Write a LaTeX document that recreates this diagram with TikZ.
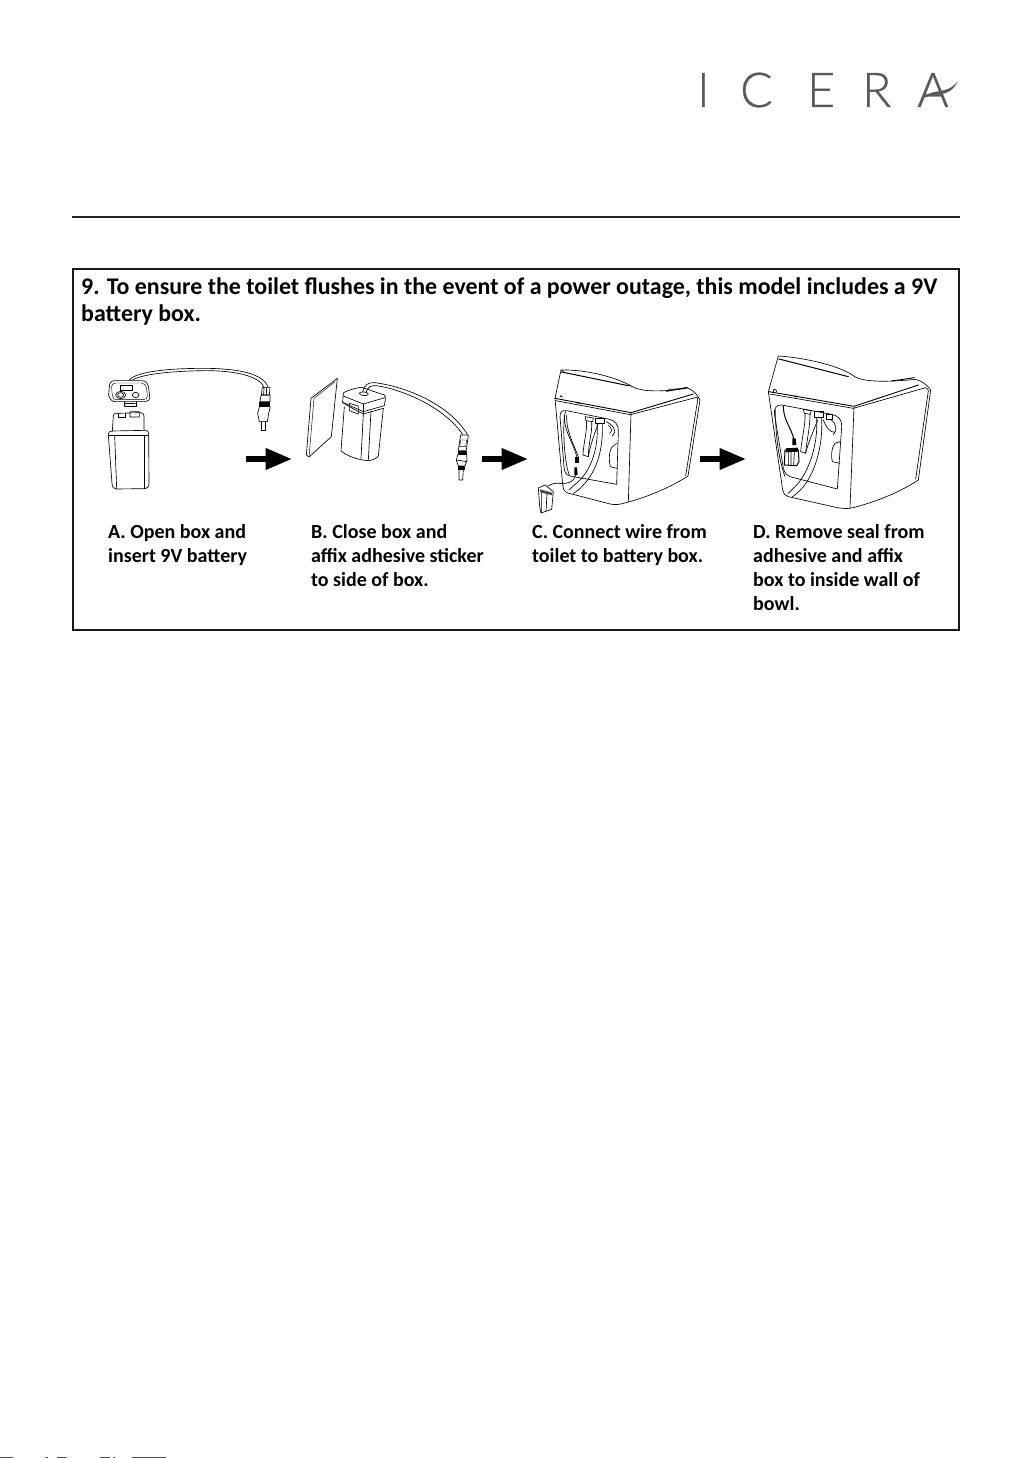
\documentclass[tikz,border=0pt]{standalone}
\usepackage{fontspec}
\usetikzlibrary{arrows.meta}
\setmainfont{Carlito}
\newfontfamily\logofont{Lato}[UprightFont=* Light,UprightFeatures={FakeBold=0.7}]
\definecolor{logogray}{HTML}{58595B}
\tikzset{
  x=1pt,y=-1pt,
  titletext/.style={font=\bfseries\fontsize{23.9}{27}\selectfont,anchor=base west,inner sep=0},
  captext/.style={font=\bfseries\fontsize{20}{24}\selectfont,anchor=north west,inner sep=0,align=left},
  logo/.style={font=\logofont\fontsize{48}{48}\selectfont,text=logogray,anchor=base west,inner sep=0},
  ink/.style={line width=.65pt,line join=round,line cap=round},
  thin ink/.style={line width=.45pt,line join=round,line cap=round},
  steparrow/.style={line width=6.7pt,-{Triangle[length=27pt,width=20pt]}},
  zoomA/.style={shift={(80,345)},scale=1/3},
  zoomB/.style={shift={(295,345)},scale=1/3},
  zoomC/.style={shift={(525,350)},scale=1/3},
  zoomD/.style={shift={(755,345)},scale=1/3},
}
\begin{document}
\begin{tikzpicture}
\useasboundingbox (0,0) rectangle (1033,1458);
\fill[white] (0,0) rectangle (1033,1458);
% logo
\node[logo] (lI) at (697,107) {I};
\node[logo] (lC) at (740,107) {C};
\node[logo] (lE) at (807,107) {E};
\node[logo] (lR) at (862,107) {R};
\node[logo] (lA) at (917,107) {A};
\fill[logogray] (921,100) .. controls (932,86) and (945,97) .. (958,81) .. controls (948,101) and (934,90) .. (921,100) -- cycle;
% rule and frame
\draw[line width=1.5pt,black!85] (72,217) -- (960,217);
\draw[line width=2pt,black!90] (73,268.5) rectangle (959,630);
\node[titletext] (t1) at (81,294) {9. To ensure the toilet flushes in the event of a power outage, this model includes a 9V};
\node[titletext] (t2) at (81,321) {battery box.};
\node[captext] (ca) at (108,524) {A. Open box and\\insert 9V battery};
\node[captext] (cb) at (311,524) {B. Close box and\\affix adhesive sticker\\to side of box.};
\node[captext] (cc) at (532,524) {C. Connect wire from\\toilet to battery box.};
\node[captext] (cd) at (753,524) {D. Remove seal from\\adhesive and affix\\box to inside wall of\\bowl.};
% step arrows
\coordinate (a1s) at (246,459); \coordinate (a1e) at (292.5,459);
\coordinate (a2s) at (482,459); \coordinate (a2e) at (528.5,459);
\coordinate (a3s) at (700,459); \coordinate (a3e) at (746.5,459);
\draw[steparrow] (a1s) -- (a1e);
\draw[steparrow] (a2s) -- (a2e);
\draw[steparrow] (a3s) -- (a3e);
% PANEL A
\begin{scope}[zoomA,ink]
 \draw (88,125) .. controls (88,112) and (95,107) .. (105,107) -- (185,107) .. controls (198,107) and (204,115) .. (206,128) -- (209,155) .. controls (209,165) and (204,170) .. (195,170) -- (105,170) .. controls (95,170) and (88,160) .. (86,150) -- cycle;
 \draw[thin ink] (95,128) .. controls (95,118) and (100,114) .. (108,114) -- (185,114) .. controls (194,114) and (198,122) .. (200,132) -- (202,152) .. controls (202,160) and (198,164) .. (190,164) -- (108,164) .. controls (100,164) and (96,155) .. (95,128) -- cycle;
 \draw (122,120) rectangle (158,136);
 \draw (122,150) ellipse (15 and 11);
 \draw (122,150) ellipse (9 and 7);
 \draw (167,150) ellipse (10 and 8);
 \draw (132,170) -- (132,184) -- (168,184) -- (168,170);
 \draw (134,176) -- (166,176);
 % wire
 \draw (147,106) .. controls (170,76) and (290,70) .. (370,70) .. controls (470,70) and (552,85) .. (564,127);
 \draw (156,106) .. controls (190,84) and (300,78) .. (370,77) .. controls (470,76) and (540,95) .. (552,127);
 % plug
 \draw (547,127) -- (570,127) -- (568,150) -- (544,150) -- cycle;
 \draw (552,127) -- (551,150) (560,127) -- (559,150);
 \draw (543,150) -- (570,150) -- (570,170) -- (540,170) -- cycle;
 \fill (538,170) rectangle (571,186);
 \draw (538,186) -- (533,205) -- (538,230) -- (562,230) -- (566,205) -- (571,186);
 \draw (543,230) -- (543,255) -- (555,255) -- (555,230);
 % battery
 \draw (97,258) -- (100,213) .. controls (100,207) and (103,205) .. (108,205) -- (182,203) .. controls (188,203) and (192,207) .. (192,213) -- (192,255);
 \draw (115,205) -- (115,216) -- (137,216) -- (137,205);
 \draw (150,203) -- (150,216) -- (178,216) -- (178,200) -- (152,200) -- cycle;
 \draw (85,270) .. controls (85,262) and (88,258) .. (95,258) -- (197,256) .. controls (203,256) and (206,260) .. (206,268) -- (207,415) .. controls (207,425) and (202,431) .. (195,431) -- (108,432) .. controls (100,432) and (97,425) .. (96,415) -- cycle;
 \draw (87,272) -- (205,272);
 \draw (104,272) -- (110,431);
 \draw (192,272) -- (192,431);
\end{scope}
% PANEL B
\begin{scope}[zoomB,ink]
 \draw (48,160) -- (127,100) -- (109,275) -- (42,336) -- (34,330) -- cycle;
 \draw[thin ink] (57,160) -- (120,110) (57,160) -- (42,336);
 % box
 \draw (145,145) .. controls (147,138) and (190,127) .. (200,127) -- (268,150) .. controls (272,152) and (272,160) .. (270,170);
 \draw (145,145) -- (143,172) -- (205,200) -- (268,182) -- (270,170);
 \draw (145,153) -- (205,177) -- (270,158);
 \draw (205,177) -- (205,207);
 \draw (143,172) .. controls (140,170) and (155,182) .. (205,207) -- (265,190);
 \draw (163,175) -- (190,183) -- (190,207) -- (163,197) -- cycle;
 \draw (148,185) -- (138,318) .. controls (160,335) and (190,345) .. (220,347) .. controls (235,345) and (245,340) .. (250,333) -- (265,190);
 \draw (205,207) -- (198,340) (228,198) -- (220,345);
 \draw (193,145) .. controls (193,139) and (218,139) .. (220,147) .. controls (218,155) and (195,153) .. (193,145) -- cycle;
 % wire
 \draw (203,141) .. controls (208,118) and (220,112) .. (240,113) .. controls (330,125) and (460,175) .. (517,268);
 \draw (213,143) .. controls (218,125) and (228,121) .. (245,122) .. controls (330,135) and (450,190) .. (503,268);
 % plug
 \draw (497,270) -- (520,270) -- (514,316) -- (490,316) -- cycle;
 \draw[thin ink] (497,285) -- (515,285) -- (512,305) -- (494,305) -- cycle;
 \fill (488,318) rectangle (515,330);
 \draw (488,330) -- (484,345) -- (490,363) -- (510,363) -- (516,345) -- (515,330);
 \draw (484,345) -- (516,350);
 \fill (490,363) rectangle (510,374);
 \draw (492,374) -- (492,405) -- (503,405) -- (505,374);
\end{scope}
% PANEL C
\begin{scope}[zoomC,ink]
 % shell
 \draw (108,60) .. controls (190,58) and (280,85) .. (318,108) .. controls (350,128) and (420,125) .. (488,114) .. controls (505,120) and (518,135) .. (525,150) -- (489,378) .. controls (440,410) and (370,440) .. (310,456) .. controls (280,465) and (270,465) .. (255,462) -- (125,428) .. controls (118,425) and (115,418) .. (113,405) -- (90,145) -- cycle;
 \draw[line width=1pt] (110,66) -- (305,106);
 \draw (108,60) -- (118,68) (305,106) -- (318,108);
 \draw[line width=.9pt] (90,145) -- (318,188) -- (505,132);
 \draw (92,152) -- (316,194) -- (515,142) .. controls (518,144) and (520,146) .. (518,150);
 \draw (518,150) -- (482,377);
 \draw (318,190) -- (310,456);
 \draw[line width=.9pt] (425,124) -- (487,112);
 \draw (430,118) -- (480,116);
 \draw (105,140) .. controls (103,135) and (112,135) .. (112,142);
 \draw (158,160) .. controls (158,156) and (165,156) .. (165,162);
 % opening
 \draw (105,200) .. controls (105,185) and (112,180) .. (125,182) -- (250,207) .. controls (270,210) and (282,225) .. (280,245) -- (275,403) -- (135,378) .. controls (122,375) and (118,365) .. (117,350) -- cycle;
 \draw (122,185) .. controls (112,200) and (115,330) .. (133,376);
 % hoses
 \draw (180,200) -- (205,204) -- (203,215) -- (183,212) -- cycle;
 \draw (184,212) .. controls (188,240) and (175,280) .. (174,315) (200,215) .. controls (202,250) and (190,280) .. (190,320);
 \draw (174,315) -- (190,320);
 \draw (210,205) rectangle (238,220);
 \draw (216,220) .. controls (222,300) and (195,370) .. (148,405) -- (132,420);
 \draw (232,222) .. controls (235,320) and (205,380) .. (160,420) -- (145,430);
 \draw (220,220) .. controls (205,260) and (195,290) .. (190,320);
 \draw (245,215) .. controls (270,230) and (275,245) .. (262,258) (250,225) .. controls (262,235) and (262,245) .. (254,250);
 \draw (262,290) .. controls (250,305) and (252,335) .. (256,350) -- (275,355) (275,280) -- (262,290);
 % wire
 \draw (118,195) .. controls (115,240) and (150,290) .. (155,320);
 \draw (125,195) .. controls (122,240) and (145,280) .. (160,320);
 \fill (150,320) rectangle (162,340);
 \fill (148,352) -- (156,352) -- (158,375) -- (148,375) -- cycle;
 \draw (152,375) .. controls (150,395) and (120,405) .. (105,400) .. controls (90,398) and (80,402) .. (68,408);
 % mini box
 \draw (40,414) -- (60,405) -- (85,425) -- (80,478) -- (48,489) -- (44,470) -- cycle;
 \fill[black!70] (45,418) -- (82,428) -- (82,436) -- (46,427) -- cycle;
 \draw (50,427) -- (50,488) (66,432) -- (63,484);
\end{scope}
% PANEL D
\begin{scope}[zoomD,ink]
 \draw (70,33) .. controls (150,38) and (250,62) .. (292,90) .. controls (320,115) and (410,110) .. (482,103) .. controls (500,108) and (518,120) .. (527,135) -- (490,405) .. controls (430,445) and (350,475) .. (285,490) .. controls (260,492) and (240,487) .. (225,483) -- (100,455) .. controls (90,453) and (85,445) .. (83,435) -- (40,140) -- cycle;
 \draw[line width=1pt] (72,42) -- (280,95);
 \draw[line width=.9pt] (42,140) -- (297,184) -- (490,120);
 \draw (44,147) -- (295,190) -- (512,128) .. controls (516,130) and (520,134) .. (520,137);
 \draw (520,137) -- (482,402);
 \draw (297,187) -- (285,490);
 \draw[line width=.9pt] (410,108) -- (478,98);
 \draw (55,140) .. controls (53,130) and (65,130) .. (65,140);
 \draw (118,155) .. controls (118,151) and (125,151) .. (125,157);
 % opening
 \draw (58,205) .. controls (57,190) and (65,178) .. (80,180) -- (230,208) .. controls (250,212) and (262,225) .. (260,245) -- (247,432) -- (105,395) .. controls (95,392) and (90,385) .. (85,370) -- cycle;
 \draw (62,195) .. controls (60,260) and (70,340) .. (90,395);
 % hoses
 \draw (145,193) -- (168,197) -- (166,208) -- (148,205) -- cycle;
 \draw (150,205) .. controls (152,240) and (140,280) .. (137,320) (165,208) .. controls (165,250) and (155,285) .. (152,325) (137,320) -- (152,325);
 \draw (178,200) rectangle (206,218);
 \draw (185,218) .. controls (190,300) and (160,390) .. (115,430) -- (100,445);
 \draw (200,220) .. controls (205,320) and (170,410) .. (125,445) -- (112,456);
 \draw (188,225) .. controls (175,260) and (160,290) .. (152,325);
 \draw (215,208) rectangle (232,222);
 \draw (225,222) .. controls (245,235) and (248,255) .. (235,270) (205,225) .. controls (215,250) and (225,262) .. (240,262);
 \draw (240,295) .. controls (228,310) and (228,335) .. (232,350) -- (255,355) (255,290) -- (240,295);
 % wire
 \draw[line width=1pt] (85,182) .. controls (85,230) and (110,245) .. (118,290);
 \fill (112,280) -- (122,280) -- (124,300) -- (112,300) -- cycle;
 % mini box
 \fill (92,310) -- (128,308) -- (130,320) -- (92,322) -- cycle;
 \draw[line width=1pt] (90,315) -- (88,360) -- (125,362) -- (132,350) -- (130,315);
 \draw (100,322) -- (100,360) (118,322) -- (116,360) (108,322) -- (108,360);
\end{scope}
% cut-off line at the bottom edge of the page
\fill[black!70] (0,1456.5) rectangle (13,1458);
\fill[black!70] (45,1456.5) rectangle (48,1458);
\fill[black!70] (57,1456.5) rectangle (67,1458);
\fill[black!70] (100,1456.5) rectangle (110,1458);
\fill[black!70] (113,1456.5) rectangle (115,1458);
\fill[black!70] (132,1456.5) rectangle (166,1458);
\end{tikzpicture}
\end{document}
